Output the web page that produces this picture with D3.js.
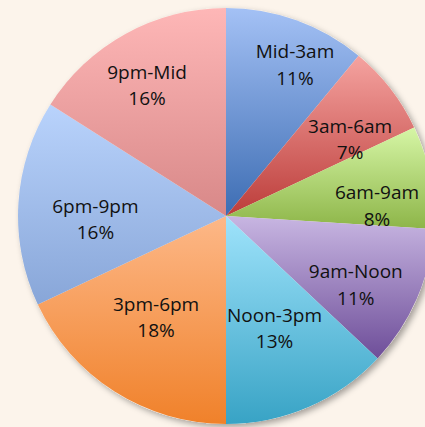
<!DOCTYPE html>
<html><head><meta charset="utf-8">
<script src="https://cdn.jsdelivr.net/npm/d3@7"></script>
<style>html,body{margin:0;padding:0;background:#fcf4eb;}svg{display:block;}</style>
</head><body>
<script>
const categories = ["Mid-3am","3am-6am","6am-9am","9am-Noon","Noon-3pm","3pm-6pm","6pm-9pm","9pm-Mid"];
const values = [11,7,8,11,13,18,16,16];

// styling (gradient top / bottom colours per slice)
const topColors = ["#a4c1f5","#f5a3a0","#d6f6a6","#c8b6e2","#9fe3fb","#fdb888","#b9d3fc","#feb7b7"];
const bottomColors = ["#3d6db3","#bc3d3a","#8db548","#6e4e99","#38a3c5","#f0812a","#88a6d8","#d88888"];
// label placement: angle shift (deg) from slice mid-angle, radius as fraction of pie radius
const labelShift = [5.7,8.4,9.4,6.8,1.2,0.5,-8.1,-3.7];
const labelRadius = [0.77,0.685,0.726,0.722,0.618,0.619,0.63,0.707];

const W=425,H=427,cx=226,cy=216,R=208;
const svg=d3.select("body").append("svg").attr("width",W).attr("height",H);
const defs=svg.append("defs");
const f=defs.append("filter").attr("id","sh").attr("x","-10%").attr("y","-10%").attr("width","120%").attr("height","120%");
f.append("feDropShadow").attr("dx",3).attr("dy",3).attr("stdDeviation",3).attr("flood-color","#000").attr("flood-opacity",0.35);
categories.forEach((c,i)=>{
  const g=defs.append("linearGradient").attr("id","g"+i).attr("x1",0).attr("y1",0).attr("x2",0).attr("y2",1);
  g.append("stop").attr("offset","0%").attr("stop-color",topColors[i]);
  g.append("stop").attr("offset","100%").attr("stop-color",bottomColors[i]);
});
const pie=d3.pie().sort(null).value(d=>d)(values);
const arc=d3.arc().innerRadius(0).outerRadius(R);
const root=svg.append("g").attr("transform",`translate(${cx},${cy})`);
root.append("circle").attr("r",R).attr("fill","#fcf4eb").attr("filter","url(#sh)");
root.selectAll("path.s").data(pie).join("path").attr("class","s")
  .attr("d",arc).attr("fill",(d,i)=>`url(#g${i})`);
const total=d3.sum(values);
const lg=root.append("g").attr("font-family","'Open Sans', sans-serif").attr("font-size",19).attr("fill","#111").attr("text-anchor","middle");
pie.forEach((d,i)=>{
  const a=(d.startAngle+d.endAngle)/2 + labelShift[i]*Math.PI/180;
  const r=labelRadius[i]*R;
  const x=r*Math.sin(a), y=-r*Math.cos(a);
  const t=lg.append("text").attr("x",x).attr("y",y);
  t.append("tspan").attr("x",x).attr("y",y-13.2).text(categories[i]);
  t.append("tspan").attr("x",x).attr("y",y+13.2).text(Math.round(d.value/total*100)+"%");
});
</script>
</body></html>
